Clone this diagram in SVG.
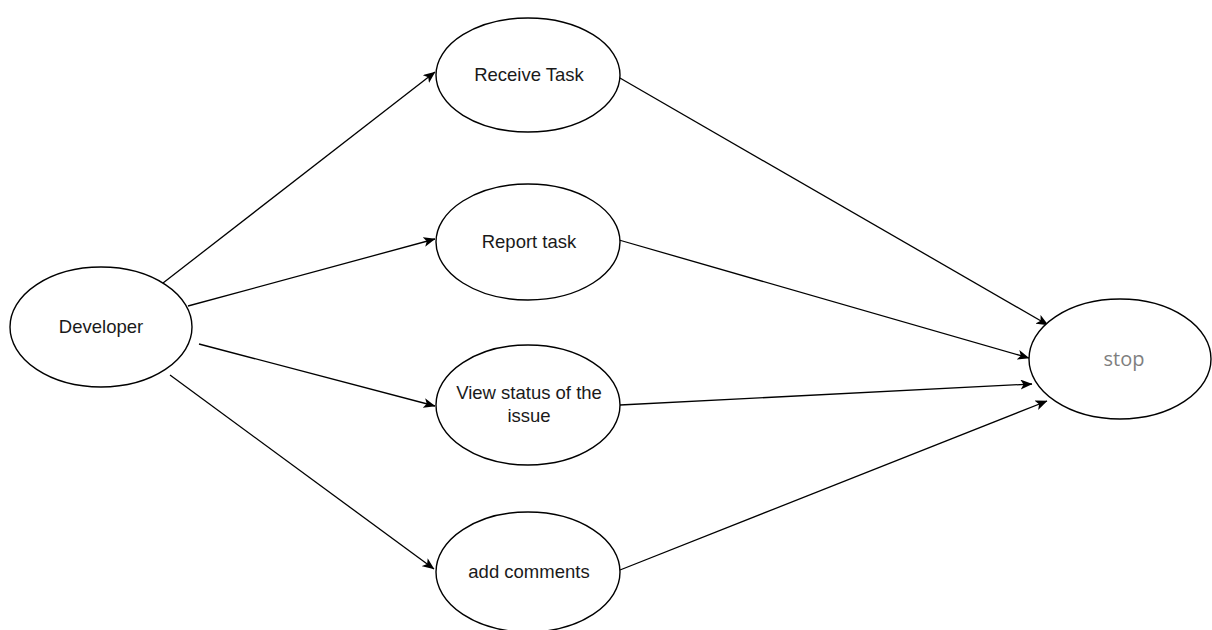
<svg xmlns="http://www.w3.org/2000/svg" width="1212" height="630" viewBox="0 0 1212 630">
  <style>
    .node ellipse { fill: #ffffff; stroke: #000000; stroke-width: 1.4; }
    .label { font-family: "Liberation Sans", Arial, sans-serif; font-size: 18.5px; fill: #1a1a1a; text-anchor: middle; }
    .end-label { font-family: "Open Sans", "Liberation Sans", sans-serif; font-size: 20px; fill: #7f7f7f; text-anchor: middle; }
    .edge { stroke: #000000; stroke-width: 1.3; fill: none; marker-end: url(#arrow); }
  </style>
  <defs>
    <marker id="arrow" viewBox="0 0 12 10" refX="11.5" refY="5" markerWidth="12" markerHeight="10" markerUnits="userSpaceOnUse" orient="auto">
      <path d="M0,0 L12,5 L0,10 L3,5 Z" fill="#000000"/>
    </marker>
  </defs>
  <rect width="1212" height="630" fill="#ffffff"/>

  <g id="connectors">
    <line class="edge" x1="163" y1="283" x2="435" y2="72"/>
    <line class="edge" x1="188" y1="306" x2="435" y2="239"/>
    <line class="edge" x1="199" y1="344" x2="435" y2="406"/>
    <line class="edge" x1="170" y1="375" x2="434" y2="569"/>
    <line class="edge" x1="613" y1="74" x2="1048" y2="325"/>
    <line class="edge" x1="619" y1="240" x2="1029" y2="358"/>
    <line class="edge" x1="620" y1="405" x2="1032" y2="384"/>
    <line class="edge" x1="620" y1="570" x2="1047" y2="401"/>
  </g>

  <g id="developer" class="node">
    <ellipse cx="101" cy="327" rx="91" ry="60"/>
    <text class="label" x="101" y="333">Developer</text>
  </g>
  <g id="receive-task" class="node">
    <ellipse cx="528" cy="75" rx="92" ry="57"/>
    <text class="label" x="529" y="81">Receive Task</text>
  </g>
  <g id="report-task" class="node">
    <ellipse cx="528" cy="242" rx="92" ry="58"/>
    <text class="label" x="529" y="248">Report task</text>
  </g>
  <g id="view-status" class="node">
    <ellipse cx="528" cy="405" rx="92" ry="60"/>
    <text class="label" x="529" y="399">View status of the</text>
    <text class="label" x="529" y="422">issue</text>
  </g>
  <g id="add-comments" class="node">
    <ellipse cx="528" cy="572" rx="92" ry="60"/>
    <text class="label" x="529" y="578">add comments</text>
  </g>
  <g id="stop" class="node">
    <ellipse cx="1120" cy="359" rx="91" ry="60"/>
    <text class="end-label" x="1124" y="366">stop</text>
  </g>
</svg>
